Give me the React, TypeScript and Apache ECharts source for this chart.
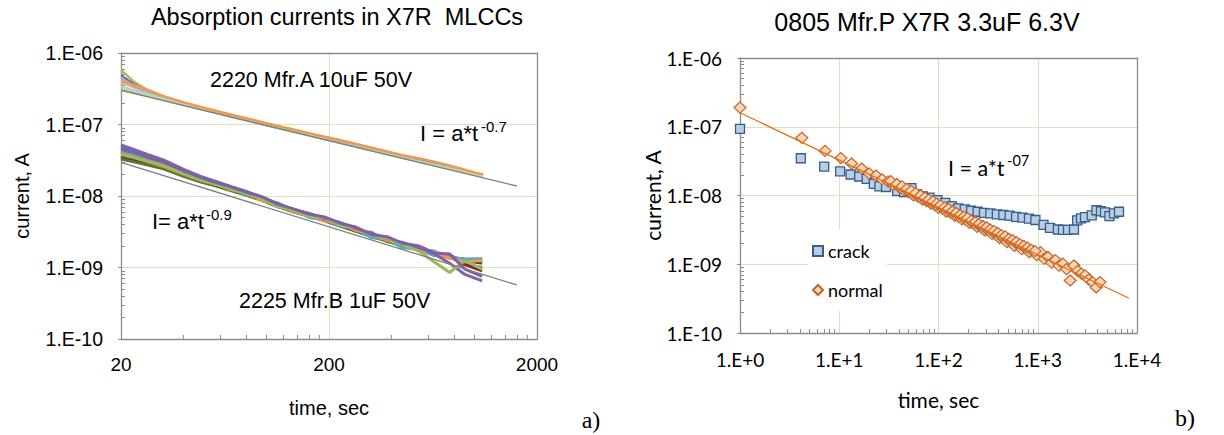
import React, { useEffect, useRef } from "react";
import * as echarts from "echarts";

// ---------- Left chart (a): absorption currents ----------
// time points, seconds
const T_A = [20, 23, 27, 32, 40, 50, 65, 80, 100, 130, 170, 220, 280, 360, 450, 560, 700, 850, 1000, 1100];
// upper group "2220 Mfr.A 10uF 50V", current in units of 1e-7 A
const A_UNIT = 1e-7;
const A_LINES: number[][] = [
  [5.8, 4.0, 3.0, 2.45, 2.0, 1.68, 1.38, 1.19, 1.01, 0.85, 0.70, 0.585, 0.495, 0.415, 0.355, 0.305, 0.262, 0.232, 0.207, 0.196],
  [4.9, 3.7, 2.95, 2.4, 1.98, 1.66, 1.37, 1.18, 1.0, 0.84, 0.695, 0.58, 0.49, 0.41, 0.35, 0.30, 0.258, 0.228, 0.204, 0.193],
  [3.6, 3.55, 3.0, 2.45, 2.02, 1.7, 1.4, 1.21, 1.03, 0.86, 0.715, 0.6, 0.51, 0.43, 0.37, 0.32, 0.28, 0.24, 0.21, 0.198],
  [4.2, 3.5, 2.9, 2.38, 1.95, 1.65, 1.36, 1.17, 0.99, 0.83, 0.69, 0.575, 0.49, 0.41, 0.35, 0.30, 0.26, 0.23, 0.205, 0.19],
  [3.8, 3.3, 2.8, 2.32, 1.93, 1.63, 1.35, 1.16, 0.985, 0.825, 0.685, 0.57, 0.485, 0.405, 0.347, 0.298, 0.258, 0.228, 0.203, 0.195],
  [4.5, 3.4, 2.85, 2.35, 1.96, 1.64, 1.36, 1.17, 0.995, 0.835, 0.69, 0.578, 0.49, 0.412, 0.352, 0.302, 0.262, 0.232, 0.207, 0.2],
  [3.4, 3.0, 2.7, 2.3, 1.92, 1.62, 1.34, 1.15, 0.98, 0.82, 0.68, 0.568, 0.482, 0.405, 0.346, 0.298, 0.258, 0.228, 0.202, 0.192],
  [3.05, 2.78, 2.5, 2.2, 1.88, 1.6, 1.33, 1.15, 0.975, 0.815, 0.675, 0.565, 0.478, 0.4, 0.343, 0.295, 0.254, 0.224, 0.2, 0.19],
  [3.3, 2.95, 2.6, 2.25, 1.9, 1.6, 1.32, 1.14, 0.97, 0.81, 0.67, 0.56, 0.475, 0.4, 0.342, 0.295, 0.255, 0.225, 0.2, 0.188],
  [4.0, 3.6, 3.05, 2.5, 2.05, 1.72, 1.42, 1.23, 1.05, 0.88, 0.73, 0.62, 0.525, 0.44, 0.375, 0.33, 0.285, 0.245, 0.215, 0.2],
];
const A_COLORS = ["#9BBB59", "#8064A2", "#4BACC6", "#FAC090", "#E6B9B8", "#B3A2C7", "#93CDDD", "#A6A6A6", "#C3D69B", "#F79646"];
const A_FIT = [[20, 3.0], [1600, 0.138]];

const T_B = [20, 23, 27, 32, 40, 48, 57, 68, 80, 95, 113, 135, 160, 190, 225, 270, 320, 380, 450, 540, 640, 760, 900, 1090];
// lower group "2225 Mfr.B 1uF 50V", current in nA
const B_UNIT = 1e-9;
const B_LINES: number[][] = [
  [45, 39, 33, 28.5, 21.6, 17.6, 15.3, 13.1, 11.5, 8.8, 8.0, 6.0, 5.7, 4.6, 4.3, 3.2, 3.1, 2.3, 2.26, 1.76, 1.7, 1.35, 1.32, 1.3],
  [42, 37, 32, 27.5, 21.2, 17.3, 15.1, 12.9, 10.8, 9.3, 7.3, 6.4, 5.3, 4.9, 3.9, 3.6, 2.7, 2.55, 2.0, 1.94, 1.47, 1.5, 1.1, 1.0],
  [36, 33, 29, 25.5, 19.8, 16.5, 14.4, 12.2, 10.6, 8.9, 7.4, 6.1, 5.4, 4.7, 4.0, 3.3, 2.8, 2.4, 2.04, 1.85, 1.56, 1.45, 1.25, 1.15],
  [34, 31, 27.5, 24.5, 19.3, 16.0, 14.0, 12.0, 10.4, 8.8, 7.2, 6.0, 5.3, 4.6, 3.9, 3.3, 2.76, 2.38, 2.0, 1.8, 1.52, 1.5, 1.1, 0.9],
  [33, 30, 27, 24, 18.9, 15.8, 13.9, 11.8, 10.3, 8.7, 7.1, 6.0, 5.2, 4.5, 3.8, 3.2, 2.7, 2.34, 2.0, 1.76, 1.52, 1.38, 1.28, 1.22],
  [41, 36.5, 31.5, 27, 21.0, 16.9, 14.7, 13.1, 10.4, 9.4, 7.1, 6.5, 5.0, 4.7, 3.8, 3.5, 2.6, 2.5, 1.9, 1.8, 1.47, 1.4, 1.3, 1.33],
  [39, 35, 30.5, 26.5, 20.4, 17.0, 14.9, 12.2, 11.2, 8.6, 7.7, 6.0, 5.5, 4.5, 4.2, 3.3, 3.0, 2.4, 2.2, 1.7, 1.66, 1.35, 1.2, 1.25],
  [52, 45, 38, 32, 23.5, 18.9, 16.0, 13.5, 11.6, 9.6, 7.9, 6.5, 5.7, 4.8, 4.25, 3.5, 3.0, 2.55, 2.2, 1.9, 1.56, 1.15, 0.8, 0.65],
  [38, 34.5, 30, 26, 20.2, 16.7, 14.6, 12.4, 10.7, 9.1, 7.2, 6.2, 5.2, 5.0, 3.9, 3.65, 2.8, 2.6, 2.1, 1.7, 1.2, 0.85, 1.25, 0.95],
  [48, 42, 35, 30, 22.5, 18.2, 15.5, 13.3, 11.3, 9.8, 7.7, 6.6, 5.6, 5.1, 4.2, 3.65, 2.9, 2.7, 2.2, 2.0, 1.6, 1.55, 0.95, 0.75],
];
const B_COLORS = ["#4F81BD", "#C0504D", "#2C4D75", "#772C2A", "#5F7530", "#4BACC6", "#F79646", "#8064A2", "#9BBB59", "#7F60A8"];
const B_FIT = [[20, 29.5], [1600, 0.57]];

const LEFT_X_LABELS = [20, 200, 2000];
const LEFT_Y_DECADES = [-10, -6];

// ---------- Right chart (b): 0805 Mfr.P ----------
// [time s, current nA]
const CRACK: number[][] = [
  [1, 93], [4.1, 34.8], [7.05, 26.3], [10.2, 22.5], [13, 20.2], [15.9, 18.9], [18.9, 17.5], [22.3, 14.8],
  [25.4, 13.6], [29.6, 13.3], [38.4, 11.6], [45, 11.2], [53.3, 12.8], [61, 10.4], [69.6, 9.7], [81, 9.3],
  [97.5, 8.55], [117, 7.8], [136, 7.0], [158, 6.5], [184, 6.27], [213, 6.0], [248, 5.8], [287, 5.6],
  [333, 5.48], [387, 5.3], [450, 5.2], [521, 5.08], [605, 4.9], [703, 4.76], [816, 4.6], [947, 4.4],
  [1143, 3.73], [1328, 3.38], [1596, 3.2], [1795, 3.16], [2017, 3.16], [2318, 3.2], [2496, 4.35],
  [2728, 4.65], [2992, 4.86], [3497, 5.15], [3909, 6.1], [4337, 5.9], [4761, 5.7], [5276, 5.0],
  [5866, 5.5], [6590, 5.8],
];
const NORMAL: number[][] = [
  [1, 190], [4.2, 69], [7.2, 44.5], [10.4, 35], [13.3, 29.2], [16.8, 24.7], [20, 21], [23.5, 19.5],
  [27, 17.2], [31, 16], [35, 14.2], [40, 13.3], [45, 11.8], [50, 11.2], [56, 10], [62, 9.6], [69, 8.7],
  [76, 8.3], [84, 7.6], [92, 7.2], [100, 6.6], [110, 6.4], [120, 5.8], [132, 5.6], [145, 5.1], [158, 4.9],
  [172, 4.5], [188, 4.4], [205, 4.0], [224, 3.9], [245, 3.5], [268, 3.45], [292, 3.1], [318, 3.05],
  [347, 2.75], [378, 2.7], [412, 2.4], [450, 2.35], [490, 2.1], [535, 2.1], [583, 1.85], [636, 1.9],
  [693, 1.65], [755, 1.7], [823, 1.5], [897, 1.55], [978, 1.35], [1066, 1.5], [1162, 1.2], [1267, 1.28],
  [1381, 1.05], [1505, 1.15], [1640, 0.95], [1788, 1.02], [1949, 0.85], [2124, 0.58], [2315, 0.96],
  [2524, 0.8], [2751, 0.73], [2999, 0.69], [3269, 0.6], [3563, 0.55], [3884, 0.46], [4233, 0.55],
  [33, 16.2], [38, 14.7], [43, 13.6], [48, 12.5], [53, 11.7], [59, 10.8], [66, 10], [73, 9.3], [80, 8.7],
  [88, 8.2], [96, 7.6], [105, 7.2], [115, 6.7], [126, 6.4], [138, 5.9], [151, 5.6], [165, 5.2], [180, 4.9],
  [196, 4.7], [214, 4.3], [234, 4.1], [256, 3.85], [280, 3.6], [305, 3.45], [332, 3.2], [362, 3.05],
  [395, 2.85], [431, 2.65], [470, 2.55], [512, 2.35], [558, 2.25], [608, 2.1], [663, 1.95], [723, 1.85],
  [788, 1.75], [859, 1.62], [936, 1.55],
];
const NORMAL_FIT = [[1, 160], [8300, 0.32]];
const R_UNIT = 1e-9;
const RIGHT_X_DECADES = [0, 4];
const RIGHT_Y_DECADES = [-10, -6];
const MINOR_MULT = [2, 3, 4, 5, 6, 7, 8, 9];

// ---------- styling ----------
const LS = '"Liberation Sans", Arial, sans-serif';
const LATO = 'Lato, "Liberation Sans", sans-serif';
const SERIF = '"Liberation Serif", "Times New Roman", serif';
const AXIS = "#8c8c8c";
const GREEN = "#d7e4bd";

const L = (v: number) => Math.log10(v);
const fmtNeg = (v: number) => "1.E-" + String(Math.round(-v)).padStart(2, "0");

function minorList(bases: number[]) {
  const out: number[] = [];
  bases.forEach((b) => MINOR_MULT.forEach((m) => out.push(L(b * m))));
  return out;
}

function borderX(gridIndex: number, min: number, max: number) {
  return {
    type: "value", gridIndex, position: "top", min, max,
    axisLine: { show: true, onZero: false, lineStyle: { color: AXIS, width: 1.3 } },
    axisTick: { show: false }, axisLabel: { show: false }, splitLine: { show: false },
  };
}
function borderY(gridIndex: number, min: number, max: number) {
  return {
    type: "value", gridIndex, position: "right", min, max,
    axisLine: { show: true, onZero: false, lineStyle: { color: AXIS, width: 1.3 } },
    axisTick: { show: false }, axisLabel: { show: false }, splitLine: { show: false },
  };
}
function minorX(gridIndex: number, min: number, max: number, ticks: number[]) {
  return {
    type: "value", gridIndex, position: "bottom", min, max,
    axisLine: { show: false, onZero: false },
    axisTick: { show: true, inside: true, length: 4, customValues: ticks, lineStyle: { color: AXIS, width: 1 } },
    axisLabel: { show: false }, splitLine: { show: false },
  };
}
function minorY(gridIndex: number, min: number, max: number, ticks: number[]) {
  return {
    type: "value", gridIndex, position: "left", min, max,
    axisLine: { show: false, onZero: false },
    axisTick: { show: true, inside: true, length: 4, customValues: ticks, lineStyle: { color: AXIS, width: 1 } },
    axisLabel: { show: false }, splitLine: { show: false },
  };
}

function txt(text: string, x: number, y: number, size: number, family: string, align = "left") {
  return {
    type: "text", x, y, z: 20, silent: true,
    style: {
      text, fontSize: size, fontFamily: family, fill: "#000",
      align, verticalAlign: "middle", textAlign: align, textVerticalAlign: "middle",
    },
  };
}

export default function App() {
  const ref = useRef<HTMLDivElement>(null);

  useEffect(() => {
    if (!ref.current) return;
    const chart = echarts.init(ref.current, null, { renderer: "svg" });

    const lxMin = L(LEFT_X_LABELS[0]);
    const lxMax = L(LEFT_X_LABELS[LEFT_X_LABELS.length - 1]);
    const lyMin = LEFT_Y_DECADES[0];
    const lyMax = LEFT_Y_DECADES[1];
    const leftXMinor = minorList([20, 200]);
    const leftYMinor = minorList([1e-10, 1e-9, 1e-8, 1e-7]);
    const rxMin = RIGHT_X_DECADES[0];
    const rxMax = RIGHT_X_DECADES[1];
    const ryMin = RIGHT_Y_DECADES[0];
    const ryMax = RIGHT_Y_DECADES[1];
    const rightXMinor = minorList([1, 10, 100, 1000]);
    const rightYMinor = minorList([1e-10, 1e-9, 1e-8, 1e-7]);

    const series: any[] = [];
    A_LINES.forEach((vals, i) => {
      series.push({
        type: "line", xAxisIndex: 0, yAxisIndex: 0, silent: true, symbol: "none",
        lineStyle: { color: A_COLORS[i], width: 2.2 },
        data: vals.map((v, k) => [L(T_A[k]), L(v * A_UNIT)]),
      });
    });
    B_LINES.forEach((vals, i) => {
      series.push({
        type: "line", xAxisIndex: 0, yAxisIndex: 0, silent: true, symbol: "none",
        lineStyle: { color: B_COLORS[i], width: 3 },
        data: vals.map((v, k) => [L(T_B[k]), L(v * B_UNIT)]),
      });
    });
    series.push({
      type: "line", xAxisIndex: 0, yAxisIndex: 0, silent: true, symbol: "none", z: 4,
      lineStyle: { color: "#7f7f7f", width: 1.3 },
      data: A_FIT.map(([t, v]) => [L(t), L(v * A_UNIT)]),
    });
    series.push({
      type: "line", xAxisIndex: 0, yAxisIndex: 0, silent: true, symbol: "none", z: 4,
      lineStyle: { color: "#7f7f7f", width: 1.3 },
      data: B_FIT.map(([t, v]) => [L(t), L(v * B_UNIT)]),
    });
    series.push({
      name: "crack", type: "scatter", xAxisIndex: 3, yAxisIndex: 3, silent: true,
      symbol: "rect", symbolSize: 9,
      itemStyle: { color: "#B9CDE5", borderColor: "#385D8A", borderWidth: 1.3, opacity: 1 },
      data: CRACK.map(([t, v]) => [L(t), L(v * R_UNIT)]),
    });
    series.push({
      name: "normal", type: "scatter", xAxisIndex: 3, yAxisIndex: 3, silent: true,
      symbol: "diamond", symbolSize: [12, 11],
      itemStyle: { color: "#FCD5B5", borderColor: "#C0652A", borderWidth: 1.2, opacity: 1 },
      data: NORMAL.map(([t, v]) => [L(t), L(v * R_UNIT)]),
    });
    series.push({
      type: "line", xAxisIndex: 3, yAxisIndex: 3, silent: true, symbol: "none", z: 4,
      lineStyle: { color: "#E46C0A", width: 1.2 },
      data: NORMAL_FIT.map(([t, v]) => [L(t), L(v * R_UNIT)]),
    });

    const option: any = {
      animation: false,
      textStyle: { fontFamily: LS },
      grid: [
        { left: 121, top: 53, width: 416, height: 286, outerBoundsMode: "none" },
        { left: 740, top: 58, width: 397, height: 275, outerBoundsMode: "none" },
      ],
      legend: {
        data: [{ name: "crack", icon: "rect" }, { name: "normal", icon: "diamond" }],
        orient: "vertical", left: 808, top: 229,
        padding: [13, 4, 12, 4], itemGap: 21, itemWidth: 10, itemHeight: 10,
        backgroundColor: "#ffffff", selectedMode: false,
        textStyle: { fontFamily: LATO, fontSize: 18, color: "#000" },
      },
      xAxis: [
        {
          type: "value", gridIndex: 0, position: "bottom", min: lxMin, max: lxMax,
          axisLine: { show: true, onZero: false, lineStyle: { color: AXIS, width: 1.3 } },
          axisTick: { show: false, customValues: LEFT_X_LABELS.map(L) },
          axisLabel: {
            customValues: LEFT_X_LABELS.map(L),
            formatter: (v: number) => String(Math.round(Math.pow(10, v))),
            fontSize: 19, fontFamily: LS, color: "#000", margin: 16,
          },
          splitLine: { show: true, lineStyle: { color: GREEN, width: 1 } },
          name: "time, sec", nameLocation: "middle", nameGap: 59,
          nameTextStyle: { fontSize: 20, fontFamily: LS, color: "#000" },
        },
        borderX(0, lxMin, lxMax),
        minorX(0, lxMin, lxMax, leftXMinor),
        {
          type: "value", gridIndex: 1, position: "bottom", min: rxMin, max: rxMax, interval: 1,
          axisLine: { show: true, onZero: false, lineStyle: { color: AXIS, width: 1.3 } },
          axisTick: { show: false },
          axisLabel: {
            formatter: (v: number) => "1.E+" + Math.round(v),
            fontSize: 19, fontFamily: LATO, color: "#000", margin: 17,
          },
          splitLine: { show: true, lineStyle: { color: GREEN, width: 1 } },
          name: "time, sec", nameLocation: "middle", nameGap: 56,
          nameTextStyle: { fontSize: 21, fontFamily: LATO, color: "#000" },
        },
        borderX(1, rxMin, rxMax),
        minorX(1, rxMin, rxMax, rightXMinor),
      ],
      yAxis: [
        {
          type: "value", gridIndex: 0, position: "left", min: lyMin, max: lyMax, interval: 1,
          axisLine: { show: true, onZero: false, lineStyle: { color: AXIS, width: 1.3 } },
          axisTick: { show: true, length: 3, lineStyle: { color: AXIS } },
          axisLabel: { formatter: fmtNeg, fontSize: 19.5, fontFamily: LS, color: "#000", margin: 18 },
          splitLine: { show: true, lineStyle: { color: GREEN, width: 1 } },
          name: "current, A", nameLocation: "middle", nameGap: 89, nameRotate: 90,
          nameTextStyle: { fontSize: 20, fontFamily: LS, color: "#000" },
        },
        borderY(0, lyMin, lyMax),
        minorY(0, lyMin, lyMax, leftYMinor),
        {
          type: "value", gridIndex: 1, position: "left", min: ryMin, max: ryMax, interval: 1,
          axisLine: { show: true, onZero: false, lineStyle: { color: AXIS, width: 1.3 } },
          axisTick: { show: true, length: 3, lineStyle: { color: AXIS } },
          axisLabel: { formatter: fmtNeg, fontSize: 19, fontFamily: LATO, color: "#000", margin: 18 },
          splitLine: { show: true, lineStyle: { color: GREEN, width: 1 } },
          name: "current, A", nameLocation: "middle", nameGap: 75, nameRotate: 90,
          nameTextStyle: { fontSize: 21, fontFamily: LATO, color: "#000" },
        },
        borderY(1, ryMin, ryMax),
        minorY(1, ryMin, ryMax, rightYMinor),
      ],
      series,
      graphic: [
        txt("Absorption currents in X7R  MLCCs", 337, 17, 23.5, LS, "center"),
        txt("0805 Mfr.P X7R 3.3uF 6.3V", 927, 22, 25, LS, "center"),
        txt("2220 Mfr.A 10uF 50V", 210, 80, 21.5, LS),
        txt("I = a*t", 420, 133, 22, LS),
        txt("-0.7", 481, 126, 15, LS),
        txt("I= a*t", 152, 221, 22, LS),
        txt("-0.9", 206, 214, 15, LS),
        txt("2225 Mfr.B 1uF 50V", 239, 301, 21.5, LS),
        txt("I = a*t", 948, 168, 21.5, LATO),
        txt("-07", 1007, 160, 14.5, LATO),
        txt("a)", 591, 420, 24, SERIF, "center"),
        txt("b)", 1185, 418, 24, SERIF, "center"),
      ],
    };

    chart.setOption(option);
    return () => chart.dispose();
  }, []);

  return (
    <div
      ref={ref}
      style={{ position: "absolute", left: 0, top: 0, width: 1224, height: 435, background: "#fff" }}
    />
  );
}
